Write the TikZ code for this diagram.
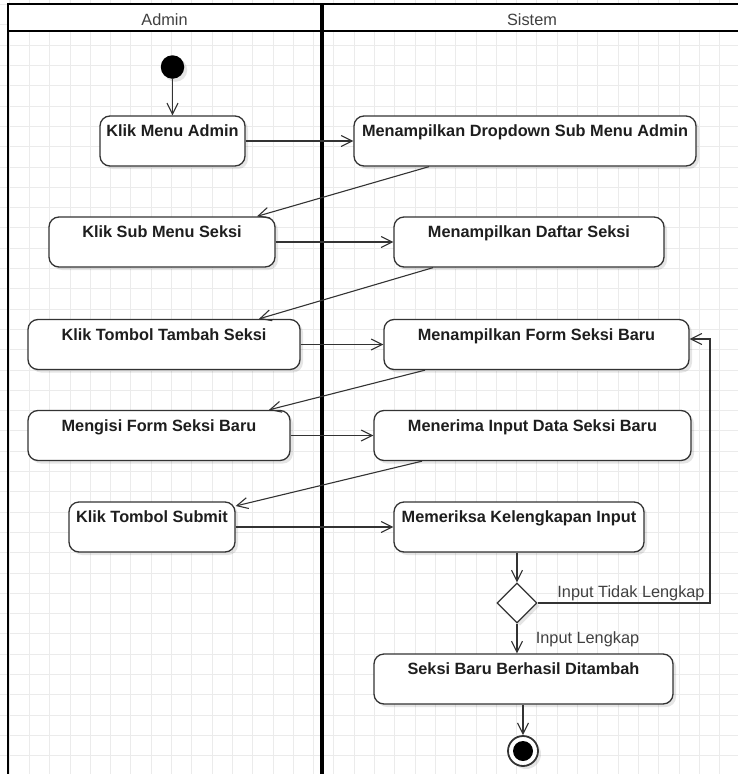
\documentclass[tikz,border=0pt]{standalone}
\usepackage{fontspec}
\setmainfont{Liberation Sans}
\usetikzlibrary{arrows.meta,shadows,shapes.geometric,calc}
\definecolor{gridc}{HTML}{EBEBEB}
\definecolor{strokec}{HTML}{333333}
\definecolor{txtc}{HTML}{1E1E1E}
\definecolor{lblc}{HTML}{404040}
\tikzset{
  act/.style={draw=strokec, line width=1.3pt, rounded corners=10pt, fill=white,
    minimum height=50pt, inner sep=0pt,
    drop shadow={shadow xshift=3pt, shadow yshift=-3pt, opacity=0.10, fill=black}},
  acttext/.style={anchor=base, text=txtc, inner sep=0pt, font=\bfseries\fontsize{16.3}{19}\selectfont},
  flow/.style={draw=strokec, line width=1.1pt, -{Straight Barb[length=11pt,width=11pt]}},
  guard/.style={anchor=base, text=lblc, inner sep=0pt, font=\fontsize{16.3}{19}\selectfont},
  lanehead/.style={anchor=base, text=lblc, inner sep=0pt, font=\fontsize{16.3}{19}\selectfont},
  frameline/.style={draw=black, line width=2.5pt},
}
\begin{document}
\begin{tikzpicture}[x=1pt,y=-1pt]
\useasboundingbox (0,0) rectangle (738,774);
% background grid
\foreach \i in {0,...,37} \draw[gridc, line width=0.8pt] ({9+20.3*\i},0) -- ({9+20.3*\i},774);
\foreach \i in {0,...,38} \draw[gridc, line width=0.8pt] (0,{4.5+20.3*\i}) -- (738,{4.5+20.3*\i});
% swimlane frame
\fill[white] (8,4) rectangle (745,31);
\draw[frameline] (8,780) -- (8,4) -- (745,4);
\draw[frameline] (8,31) -- (745,31);
\draw[draw=black, line width=4.5pt] (322,4) -- (322,780);
\node[lanehead] (hadmin) at (164.5,25) {Admin};
\node[lanehead] (hsistem) at (532,25) {Sistem};

% start
\node[circle, fill=black, minimum size=23.5pt, inner sep=0pt,
  drop shadow={shadow xshift=3pt, shadow yshift=-3pt, opacity=0.10, fill=black}] (init) at (172.5,67) {};

% actions
\node[act, minimum width=145pt] (a1) at (172.5,141) {};
\node[acttext] (a1t) at ($(a1.north)+(0,21.5)$) {Klik Menu Admin};
\node[act, minimum width=342pt] (s1) at (525,141) {};
\node[acttext] (s1t) at ($(s1.north)+(0,21.5)$) {Menampilkan Dropdown Sub Menu Admin};

\node[act, minimum width=226pt] (a2) at (162,242) {};
\node[acttext] (a2t) at ($(a2.north)+(0,21.5)$) {Klik Sub Menu Seksi};
\node[act, minimum width=270pt] (s2) at (529,242) {};
\node[acttext] (s2t) at ($(s2.north)+(0,21.5)$) {Menampilkan Daftar Seksi};

\node[act, minimum width=272pt] (a3) at (164,344.5) {};
\node[acttext] (a3t) at ($(a3.north)+(0,21.5)$) {Klik Tombol Tambah Seksi};
\node[act, minimum width=305pt] (s3) at (536.5,344.5) {};
\node[acttext] (s3t) at ($(s3.north)+(0,21.5)$) {Menampilkan Form Seksi Baru};

\node[act, minimum width=262pt] (a4) at (159,435.5) {};
\node[acttext] (a4t) at ($(a4.north)+(0,21.5)$) {Mengisi Form Seksi Baru};
\node[act, minimum width=317pt] (s4) at (532.5,435.5) {};
\node[acttext] (s4t) at ($(s4.north)+(0,21.5)$) {Menerima Input Data Seksi Baru};

\node[act, minimum width=166pt] (a5) at (152,527) {};
\node[acttext] (a5t) at ($(a5.north)+(0,21.5)$) {Klik Tombol Submit};
\node[act, minimum width=250pt] (s5) at (519,527) {};
\node[acttext] (s5t) at ($(s5.north)+(0,21.5)$) {Memeriksa Kelengkapan Input};

\node[diamond, aspect=1, draw=strokec, line width=1.3pt, fill=white, minimum width=40pt, minimum height=40pt, inner sep=0pt,
  drop shadow={shadow xshift=3pt, shadow yshift=-3pt, opacity=0.10, fill=black}] (dec) at (517,603) {};

\node[act, minimum width=299pt] (s6) at (523.5,679) {};
\node[acttext] (s6t) at ($(s6.north)+(0,21.5)$) {Seksi Baru Berhasil Ditambah};

% end
\node[circle, draw=strokec, line width=1.8pt, fill=white, minimum size=30pt, inner sep=0pt,
  drop shadow={shadow xshift=3pt, shadow yshift=-3pt, opacity=0.10, fill=black}] (fin) at (523,751) {};
\node[circle, fill=black, minimum size=20pt, inner sep=0pt] (fincore) at (fin.center) {};

% flows
\draw[flow] (init.south) -- (init.south |- a1.north);
\draw[flow] (a1.east) -- (s1.west);
\draw[flow] (429,0 |- s1.south) -- (257,0 |- a2.north);
\draw[flow] (a2.east) -- (s2.west);
\draw[flow] (433,0 |- s2.south) -- (259,0 |- a3.north);
\draw[flow] (a3.east) -- (s3.west);
\draw[flow] (425,0 |- s3.south) -- (269,0 |- a4.north);
\draw[flow] (a4.east) -- (s4.west);
\draw[flow] (422,0 |- s4.south) -- (a5.east |- 0,506);
\draw[flow] (a5.east) -- (s5.west);
\draw[flow] (dec.north |- s5.south) -- (dec.north);
\draw[flow] (dec.east) -| (710,339) -- (s3.east |- 0,339);
\draw[flow] (dec.south) -- (dec.south |- s6.north);
\draw[flow] (fin.north |- s6.south) -- (fin.north);

% guards
\node[guard] (g1) at (631,597) {Input Tidak Lengkap};
\node[guard] (g2) at (587.5,643) {Input Lengkap};
\end{tikzpicture}
\end{document}
